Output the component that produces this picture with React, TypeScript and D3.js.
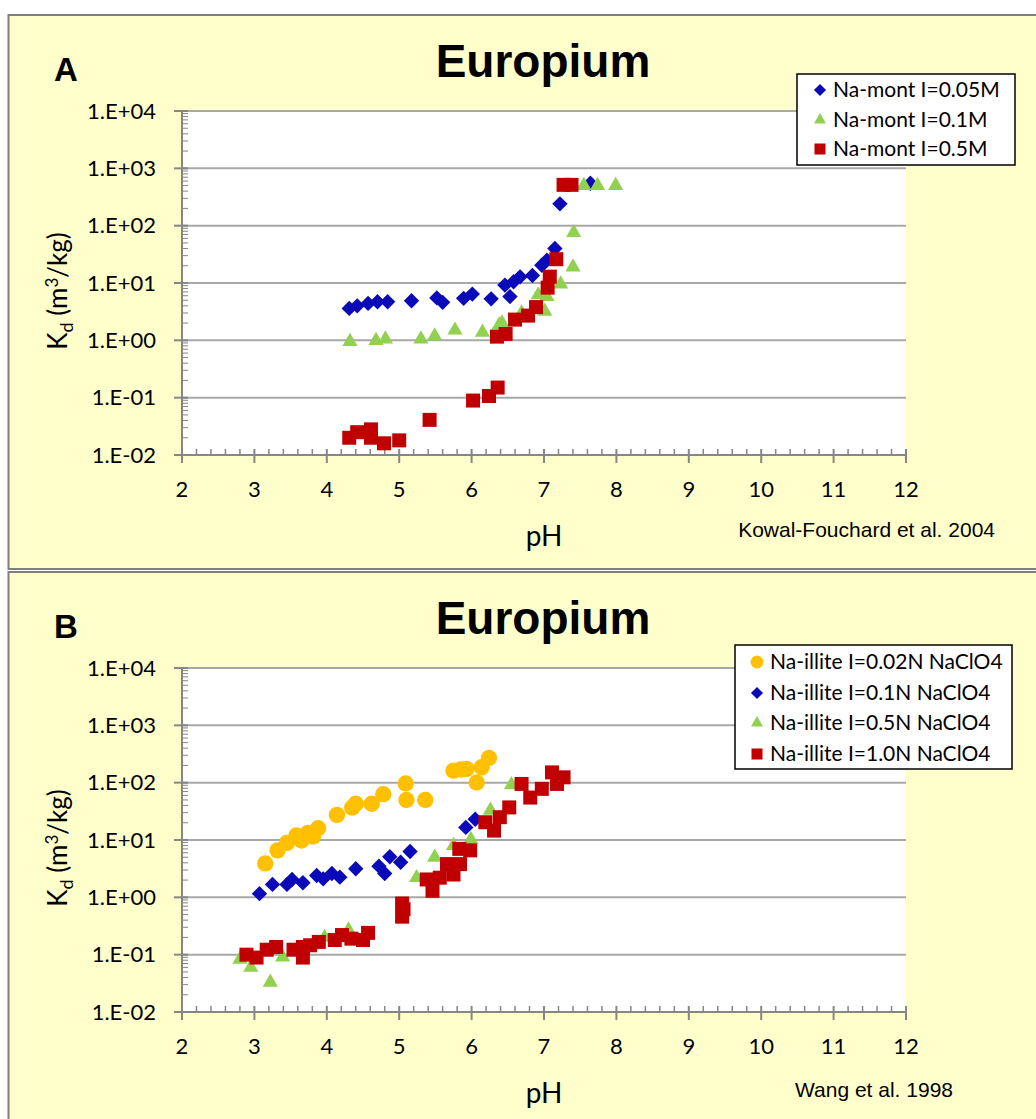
import React from 'react';
import * as d3 from 'd3';

// Panel A – Kowal-Fouchard et al. 2004 (pH, Kd)
const monte005: [number, number][] = [
  [4.31, 3.6], [4.42, 4.0], [4.57, 4.4], [4.7, 4.7], [4.84, 4.7], [5.17, 4.9],
  [5.52, 5.5], [5.6, 4.6], [5.89, 5.4], [6.01, 6.4], [6.27, 5.3], [6.46, 9.2],
  [6.53, 5.8], [6.58, 10.5], [6.67, 12.8], [6.84, 13.5], [6.97, 20.4], [7.04, 25],
  [7.15, 40], [7.22, 240], [7.64, 550],
];
const monte01: [number, number][] = [
  [4.32, 0.95], [4.68, 0.99], [4.81, 1.05], [5.3, 1.05], [5.49, 1.19], [5.77, 1.5],
  [6.15, 1.38], [6.38, 1.85], [6.42, 2.0], [6.69, 3.0], [6.92, 6.2], [7.04, 5.8],
  [7.01, 3.2], [7.23, 9.6], [7.4, 19], [7.41, 76], [7.55, 500], [7.74, 500], [7.99, 500],
];
const monte05: [number, number][] = [
  [4.31, 0.02], [4.42, 0.025], [4.61, 0.028], [4.61, 0.02], [4.79, 0.016], [5.0, 0.018],
  [5.42, 0.041], [6.02, 0.089], [6.24, 0.107], [6.36, 0.15], [6.35, 1.16], [6.47, 1.29],
  [6.6, 2.3], [6.78, 2.7], [6.89, 3.8], [7.05, 8.3], [7.08, 12.9], [7.17, 26],
  [7.27, 515], [7.38, 515],
];

// Panel B – Wang et al. 1998
const illite002: [number, number][] = [
  [3.15, 3.9], [3.32, 6.6], [3.45, 8.9], [3.58, 12], [3.65, 9.8], [3.74, 13.3],
  [3.81, 11.5], [3.88, 16], [4.14, 27.4], [4.35, 36.6], [4.4, 42.8], [4.62, 42.8],
  [4.78, 63], [5.09, 97], [5.1, 50], [5.36, 50], [5.75, 162], [5.85, 170],
  [5.93, 174], [6.07, 101], [6.14, 186], [6.24, 270],
];
const illite01: [number, number][] = [
  [3.07, 1.16], [3.25, 1.68], [3.45, 1.68], [3.52, 2.05], [3.67, 1.8], [3.86, 2.4],
  [3.95, 2.1], [4.07, 2.6], [4.18, 2.25], [4.4, 3.15], [4.72, 3.5], [4.8, 2.6],
  [4.87, 5.1], [5.02, 4.1], [5.15, 6.3], [5.92, 16.6], [6.05, 23],
];
const illite05: [number, number][] = [
  [2.8, 0.083], [2.95, 0.06], [3.22, 0.033], [3.39, 0.091], [3.97, 0.2], [4.3, 0.27],
  [5.24, 2.2], [5.49, 5.0], [5.75, 8.0], [5.99, 10.2], [6.26, 33], [6.55, 92],
];
const illite10: [number, number][] = [
  [2.89, 0.1], [3.03, 0.089], [3.17, 0.122], [3.3, 0.136], [3.54, 0.122], [3.67, 0.089],
  [3.67, 0.136], [3.77, 0.146], [3.89, 0.167], [4.11, 0.18], [4.21, 0.22], [4.34, 0.19],
  [4.5, 0.18], [4.57, 0.24], [5.04, 0.78], [5.04, 0.46], [5.06, 0.62], [5.38, 2.05],
  [5.46, 1.3], [5.56, 2.2], [5.66, 3.8], [5.75, 2.5], [5.83, 7.0], [5.98, 6.6],
  [5.84, 3.8], [6.19, 20.4], [6.31, 14.6], [6.39, 25], [6.52, 37], [6.69, 95],
  [6.81, 55], [6.97, 78], [7.11, 151], [7.18, 95], [7.27, 124],
];

const xTicks = [2, 3, 4, 5, 6, 7, 8, 9, 10, 11, 12];
const yTicks = [1e-2, 1e-1, 1, 10, 100, 1000, 10000];
const yTickLabels = ['1.E-02', '1.E-01', '1.E+00', '1.E+01', '1.E+02', '1.E+03', '1.E+04'];

const BLUE = '#0A0AB8';
const GREEN = '#92D050';
const RED = '#C00000';
const ORANGE = '#FFC000';

type Shape = 'diamond' | 'triangle' | 'square' | 'circle';
type Series = { name: string; shape: Shape; color: string; data: [number, number][] };

const seriesA: Series[] = [
  { name: 'Na-mont I=0.05M', shape: 'diamond', color: BLUE, data: monte005 },
  { name: 'Na-mont I=0.1M', shape: 'triangle', color: GREEN, data: monte01 },
  { name: 'Na-mont I=0.5M', shape: 'square', color: RED, data: monte05 },
];
const seriesB: Series[] = [
  { name: 'Na-illite I=0.02N NaClO4', shape: 'circle', color: ORANGE, data: illite002 },
  { name: 'Na-illite I=0.1N NaClO4', shape: 'diamond', color: BLUE, data: illite01 },
  { name: 'Na-illite I=0.5N NaClO4', shape: 'triangle', color: GREEN, data: illite05 },
  { name: 'Na-illite I=1.0N NaClO4', shape: 'square', color: RED, data: illite10 },
];

const CAL = 'Lato, "Open Sans", sans-serif';
const ARIAL = '"Liberation Sans", Arial, sans-serif';
const AXIS = '#868686';
const GRID = '#A8A8A8';

function markerPath(shape: Shape, big: boolean) {
  const k = big ? 1 : 0.62;
  if (shape === 'diamond') return d3.symbol(d3.symbolSquare, 118 * k)()!;
  if (shape === 'triangle') return d3.symbol(d3.symbolTriangle, 100 * k)()!;
  if (shape === 'square') return d3.symbol(d3.symbolSquare, 196 * k)()!;
  return d3.symbol(d3.symbolCircle, 210 * k)()!;
}

function Marker({ s, x, y, big }: { s: Series; x: number; y: number; big: boolean }) {
  const rot = s.shape === 'diamond' ? ' rotate(45)' : '';
  return (
    <path d={markerPath(s.shape, big)} transform={`translate(${x},${y})${rot}`} fill={s.color} />
  );
}

type PanelProps = {
  top: number;
  letter: string;
  series: Series[];
  legend: { x0: number; y0: number; w: number; h: number; mx: number; tx: number; rows: number[] };
  citation: { text: string; x: number; y: number };
};

function Panel({ top, letter, series, legend, citation }: PanelProps) {
  const x = d3.scaleLinear().domain([2, 12]).range([182, 906]);
  const y = d3.scaleLog().domain([0.01, 10000]).range([top + 455, top + 111]);
  const x0 = x(2), x1 = x(12), yb = y(0.01), yt = y(10000);

  const minorX = d3.range(2, 12.001, 0.2).filter((v) => Math.abs(v - Math.round(v)) > 0.01);
  const minorY: number[] = [];
  for (let e = -2; e < 4; e++) for (let m = 2; m <= 9; m++) minorY.push(m * Math.pow(10, e));

  return (
    <g>
      <rect x={8.5} y={top + 15} width={1040} height={554} fill="#FFFFCC" stroke="#7F7F7F" strokeWidth={2} />
      <rect x={x0} y={yt} width={x1 - x0} height={yb - yt} fill="#FFFFFF" />
      {yTicks.map((t) => (
        <line key={t} x1={x0} x2={x1} y1={y(t)} y2={y(t)} stroke={GRID} strokeWidth={2} />
      ))}
      {/* y axis */}
      <line x1={x0} x2={x0} y1={yt} y2={yb} stroke={AXIS} strokeWidth={2} />
      {minorY.map((t, i) => (
        <line key={i} x1={x0} x2={x0 + 6} y1={y(t)} y2={y(t)} stroke={AXIS} strokeWidth={1} />
      ))}
      {yTicks.map((t, i) => (
        <g key={t}>
          <line x1={x0 - 8} x2={x0 + 6} y1={y(t)} y2={y(t)} stroke={AXIS} strokeWidth={2} />
          <text x={156} y={y(t)} dy="0.35em" textAnchor="end" fontFamily={CAL} fontSize={22} fill="#000">
            {yTickLabels[i]}
          </text>
        </g>
      ))}
      {/* x axis */}
      <line x1={x0} x2={x1} y1={yb} y2={yb} stroke={AXIS} strokeWidth={2} />
      {minorX.map((t, i) => (
        <line key={i} x1={x(t)} x2={x(t)} y1={yb} y2={yb - 6} stroke={AXIS} strokeWidth={1.5} />
      ))}
      {xTicks.map((t) => (
        <g key={t}>
          <line x1={x(t)} x2={x(t)} y1={yb - 6} y2={yb + 8} stroke={AXIS} strokeWidth={2} />
          <text x={x(t)} y={top + 497} textAnchor="middle" fontFamily={CAL} fontSize={22} fill="#000">
            {t}
          </text>
        </g>
      ))}
      {/* points */}
      {series.map((s) => (
        <g key={s.name}>
          {s.data.map(([px, py], i) => (
            <Marker key={i} s={s} x={x(px)} y={y(py)} big />
          ))}
        </g>
      ))}
      {/* titles */}
      <text x={543} y={top + 77} textAnchor="middle" fontFamily={ARIAL} fontWeight="bold" fontSize={46}>
        Europium
      </text>
      <text x={54} y={top + 81} fontFamily={ARIAL} fontWeight="bold" fontSize={33}>
        {letter}
      </text>
      <text x={544} y={top + 546} textAnchor="middle" fontFamily={CAL} fontSize={28}>
        pH
      </text>
      <text
        transform={`translate(67,${top + 291}) rotate(-90)`}
        textAnchor="middle"
        fontFamily={CAL}
        fontSize={26}
      >
        K<tspan fontSize={18} dy={6}>d</tspan>
        <tspan dy={-6}> (m</tspan>
        <tspan fontSize={17} dy={-9}>3</tspan>
        <tspan dy={9}>/kg)</tspan>
      </text>
      <text x={citation.x} y={top + citation.y} textAnchor="end" fontFamily={ARIAL} fontSize={21}>
        {citation.text}
      </text>
      {/* legend */}
      <rect
        x={legend.x0}
        y={top + legend.y0}
        width={legend.w}
        height={legend.h}
        fill="#FFFFFF"
        stroke="#000"
        strokeWidth={1.5}
      />
      {series.map((s, i) => (
        <g key={s.name}>
          <Marker s={s} x={legend.mx} y={top + legend.rows[i]} big={false} />
          <text x={legend.tx} y={top + legend.rows[i]} dy="0.35em" fontFamily={CAL} fontSize={21}>
            {s.name}
          </text>
        </g>
      ))}
    </g>
  );
}

export default function App() {
  return (
    <svg
      width={1036}
      height={1119}
      style={{ position: 'absolute', left: 0, top: 0, background: '#FFFFFF' }}
    >
      <Panel
        top={0}
        letter="A"
        series={seriesA}
        legend={{ x0: 797, y0: 74, w: 218, h: 91, mx: 820, tx: 833, rows: [90, 120, 149] }}
        citation={{ text: 'Kowal-Fouchard et al. 2004', x: 995, y: 537 }}
      />
      <Panel
        top={557}
        letter="B"
        series={seriesB}
        legend={{ x0: 735, y0: 88, w: 277, h: 124, mx: 757, tx: 770, rows: [105, 136, 166, 197] }}
        citation={{ text: 'Wang et al. 1998', x: 953, y: 540 }}
      />
    </svg>
  );
}
